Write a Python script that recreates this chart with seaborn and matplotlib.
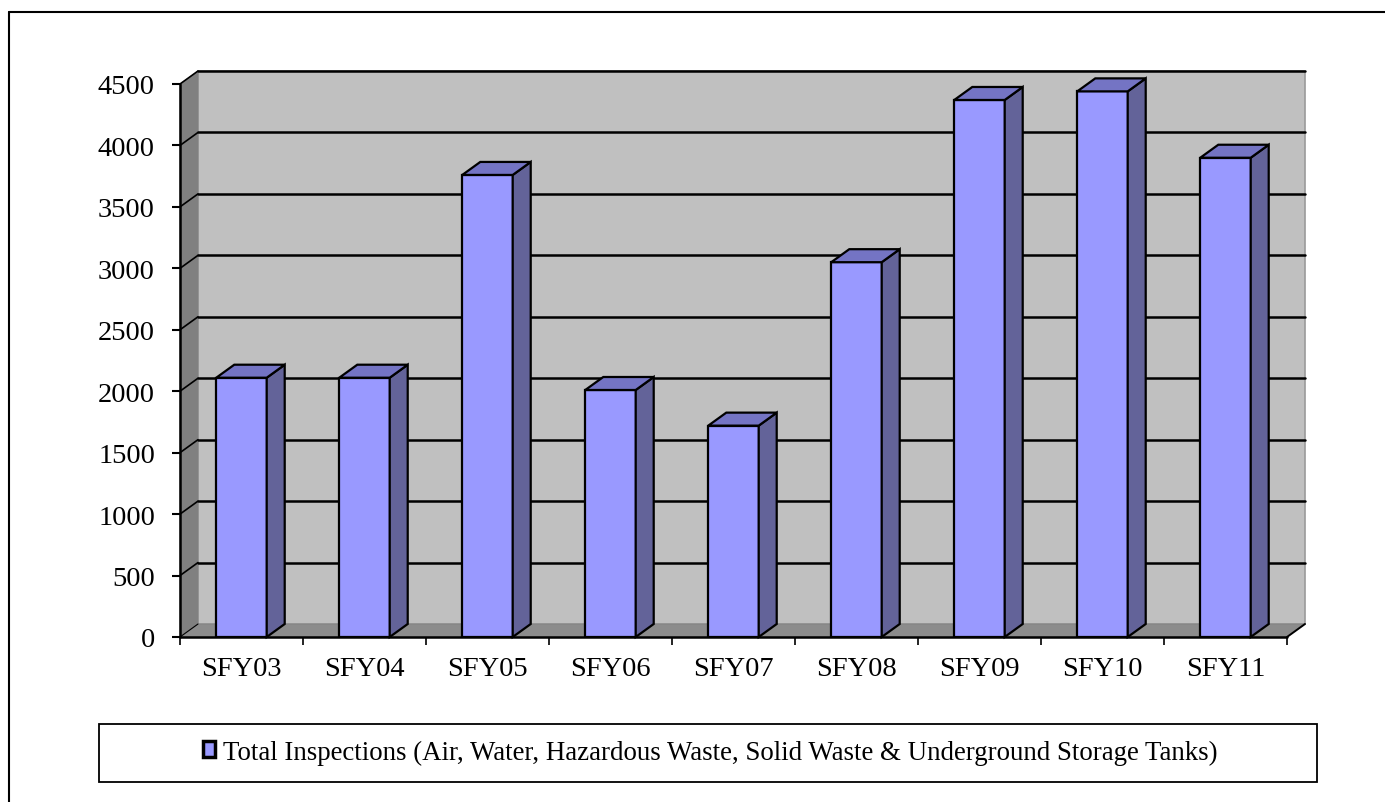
import matplotlib
matplotlib.use("Agg")
import matplotlib.pyplot as plt
import seaborn as sns
from matplotlib.patches import Polygon, Rectangle, Patch
from matplotlib.lines import Line2D

categories = ["SFY03", "SFY04", "SFY05", "SFY06", "SFY07", "SFY08", "SFY09", "SFY10", "SFY11"]
inspections = [2110, 2110, 3760, 2010, 1720, 3050, 4370, 4440, 3900]
y_ticks = [0, 500, 1000, 1500, 2000, 2500, 3000, 3500, 4000, 4500]
legend_label = "Total Inspections (Air, Water, Hazardous Waste, Solid Waste & Underground Storage Tanks)"

sns.set_theme(style="white")
plt.rcParams["font.family"] = ["Liberation Serif", "DejaVu Serif"]
plt.rcParams["text.color"] = "black"

W, H = 1385, 803
fig = plt.figure(figsize=(W / 100, H / 100), dpi=100)
fig.patch.set_facecolor("white")

left_px, right_px, bot_px, top_px = 180, 1287, 638, 85
ax = fig.add_axes([left_px / W, (H - bot_px) / H, (right_px - left_px) / W, (bot_px - top_px) / H])
ax.set_xlim(-0.5, len(categories) - 0.5)
ax.set_ylim(0, 4500)
ax.set_facecolor("none")
for s in ax.spines.values():
    s.set_visible(False)

xppu = (right_px - left_px) / len(categories)
yppu = (bot_px - top_px) / 4500.0
dx = 18 / xppu
dy = 13 / yppu
x0, x1 = -0.5, len(categories) - 0.5
ymax = 4500

# walls and floor
ax.add_patch(Polygon([(x0 + dx, dy), (x1 + dx, dy), (x1 + dx, ymax + dy), (x0 + dx, ymax + dy)],
                     closed=True, facecolor="#C0C0C0", edgecolor="#9a9a9a", lw=1.2, zorder=0, clip_on=False))
ax.add_patch(Polygon([(x0, 0), (x0 + dx, dy), (x0 + dx, ymax + dy), (x0, ymax)],
                     closed=True, facecolor="#808080", edgecolor="#808080", lw=0.5, zorder=0, clip_on=False))
ax.add_patch(Polygon([(x0, 0), (x1, 0), (x1 + dx, dy), (x0 + dx, dy)],
                     closed=True, facecolor="#8C8C8C", edgecolor="#808080", lw=0.5, zorder=0, clip_on=False))

# gridlines on back wall and left wall
for t in y_ticks[1:]:
    ax.add_line(Line2D([x0 + dx, x1 + dx], [t + dy, t + dy], color="black", lw=1.8, zorder=1, clip_on=False))
    ax.add_line(Line2D([x0, x0 + dx], [t, t + dy], color="black", lw=1.2, zorder=1, clip_on=False))
ax.add_line(Line2D([x0, x0 + dx], [0, dy], color="black", lw=0.8, zorder=1, clip_on=False))
ax.add_line(Line2D([x1, x1 + dx], [0, dy], color="black", lw=1.4, zorder=1, clip_on=False))

# bars (front faces)
sns.barplot(x=categories, y=inspections, color="#9999FF", width=0.41, edgecolor="black",
            linewidth=1.6, saturation=1, ax=ax, zorder=3, label=legend_label)
ax.set_xlim(-0.5, len(categories) - 0.5)
ax.set_ylim(0, 4500)

bars = [p for p in ax.patches if isinstance(p, Rectangle)]
for b in bars:
    bx, bw, bh = b.get_x(), b.get_width(), b.get_height()
    xr = bx + bw
    ax.add_patch(Polygon([(xr, 0), (xr + dx, dy), (xr + dx, bh + dy), (xr, bh)], closed=True,
                         facecolor="#636399", edgecolor="black", lw=1.6, zorder=3, clip_on=False))
    ax.add_patch(Polygon([(bx, bh), (bx + dx, bh + dy), (xr + dx, bh + dy), (xr, bh)], closed=True,
                         facecolor="#7474C4", edgecolor="black", lw=1.6, zorder=3, clip_on=False))

# front axes lines
ax.add_line(Line2D([x0, x0], [0, ymax], color="black", lw=1.8, zorder=4, clip_on=False))
ax.add_line(Line2D([x0, x1], [0, 0], color="black", lw=1.8, zorder=4, clip_on=False))

ax.set_yticks(y_ticks)
ax.set_yticklabels([str(t) for t in y_ticks])
ax.set_xticks(range(len(categories)))
ax.set_xticklabels(categories)
ax.set_xticks([i - 0.5 for i in range(len(categories) + 1)], minor=True)
ax.tick_params(axis="y", which="major", left=True, length=6, width=1.5, color="black",
               pad=12, labelsize=20.5, labelcolor="black")
ax.tick_params(axis="x", which="major", bottom=True, length=0, pad=14, labelsize=20.5, labelcolor="black")
ax.tick_params(axis="x", which="minor", bottom=True, length=6, width=1.2, color="black")
ax.set_xlabel("")
ax.set_ylabel("")
ax.grid(False)
if ax.get_legend() is not None:
    ax.get_legend().remove()

# legend box
fig.patches.append(Rectangle((99 / W, (H - 783) / H), (1317 - 99) / W, 58 / H, transform=fig.transFigure,
                             facecolor="white", edgecolor="black", lw=1.3, zorder=5))
handle = Patch(facecolor="#9999FF", edgecolor="black", linewidth=2.5, label=legend_label)
fig.legend(handles=[handle], labels=[legend_label], loc="center", bbox_to_anchor=(710 / W, (H - 753) / H),
           frameon=False, fontsize=19.4, handlelength=0.45, handleheight=0.55, handletextpad=0.3,
           labelcolor="black")

# outer border (top and left)
fig.add_artist(Line2D([9 / W, 1.0], [(H - 13) / H, (H - 13) / H], transform=fig.transFigure, color="black", lw=1.5))
fig.add_artist(Line2D([9 / W, 9 / W], [0, (H - 13) / H], transform=fig.transFigure, color="black", lw=1.5))

fig.savefig("out.png", dpi=100)
